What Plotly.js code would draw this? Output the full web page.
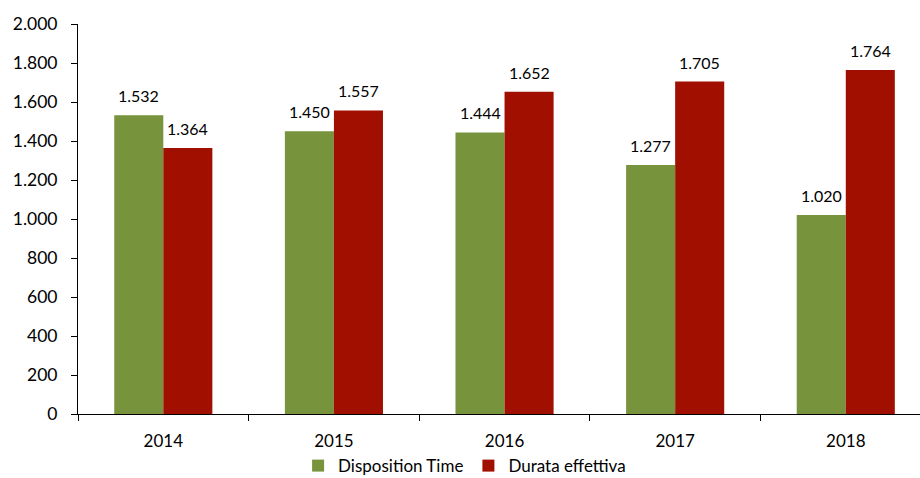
<!DOCTYPE html>
<html><head><meta charset="utf-8">
<script src="https://cdn.plot.ly/plotly-3.0.1.min.js"></script>
<style>body{margin:0;padding:0;background:#fff}#chart{width:920px;height:478px}</style>
</head><body><div id="chart"></div>
<script>
const years = ["2014","2015","2016","2017","2018"];
const dispositionTime = [1532, 1450, 1444, 1277, 1020];
const durataEffettiva = [1364, 1557, 1652, 1705, 1764];
const seriesNames = ["Disposition Time", "Durata effettiva"];
const colors = ["#77933C", "#A00F00"];

const font = "Lato, 'Open Sans', sans-serif";
const traces = [
  {type:"bar", name:seriesNames[0], x:years, y:dispositionTime, marker:{color:colors[0]}},
  {type:"bar", name:seriesNames[1], x:years, y:durataEffettiva, marker:{color:colors[1]}}
];
const off = 0.575/4;
const annotations = [];
[dispositionTime, durataEffettiva].forEach((arr, s) => {
  arr.forEach((v, i) => {
    annotations.push({
      x: i + (s === 0 ? -off : off), y: v, xref:"x", yref:"y",
      text: v.toLocaleString("de-DE"), showarrow:false,
      yanchor:"bottom", yshift:8, font:{family:font, size:16, color:"#000"}
    });
  });
});
const layout = {
  width:920, height:478,
  margin:{l:78, r:0, t:24, b:64},
  paper_bgcolor:"#fff", plot_bgcolor:"#fff",
  separators:",.",
  barmode:"group", bargap:0.425, bargroupgap:0,
  font:{family:font, size:17, color:"#000"},
  xaxis:{type:"category", range:[-0.5, 4.435], showline:true, linecolor:"#000", linewidth:1,
    ticks:"outside", tickson:"boundaries", ticklen:6, tickcolor:"#000", showgrid:false,
    ticklabelstandoff:12, automargin:false,
    tickfont:{family:font, size:17, color:"#000"}, fixedrange:true},
  yaxis:{range:[0,2000], dtick:200, tickformat:",d", showline:true, linecolor:"#000", linewidth:1,
    ticks:"outside", ticklen:6, tickcolor:"#000", showgrid:false, zeroline:false,
    ticklabelstandoff:10, automargin:false,
    tickfont:{family:font, size:17.5, color:"#000"}},
  showlegend:true,
  legend:{orientation:"h", xref:"container", yref:"container", x:0.505, xanchor:"center",
    y:0.025, yanchor:"middle", bgcolor:"rgba(0,0,0,0)",
    font:{family:font, size:17, color:"#000"}, itemwidth:30},
  annotations: annotations
};
Plotly.newPlot("chart", traces, layout, {displayModeBar:false, staticPlot:true});
</script></body></html>
